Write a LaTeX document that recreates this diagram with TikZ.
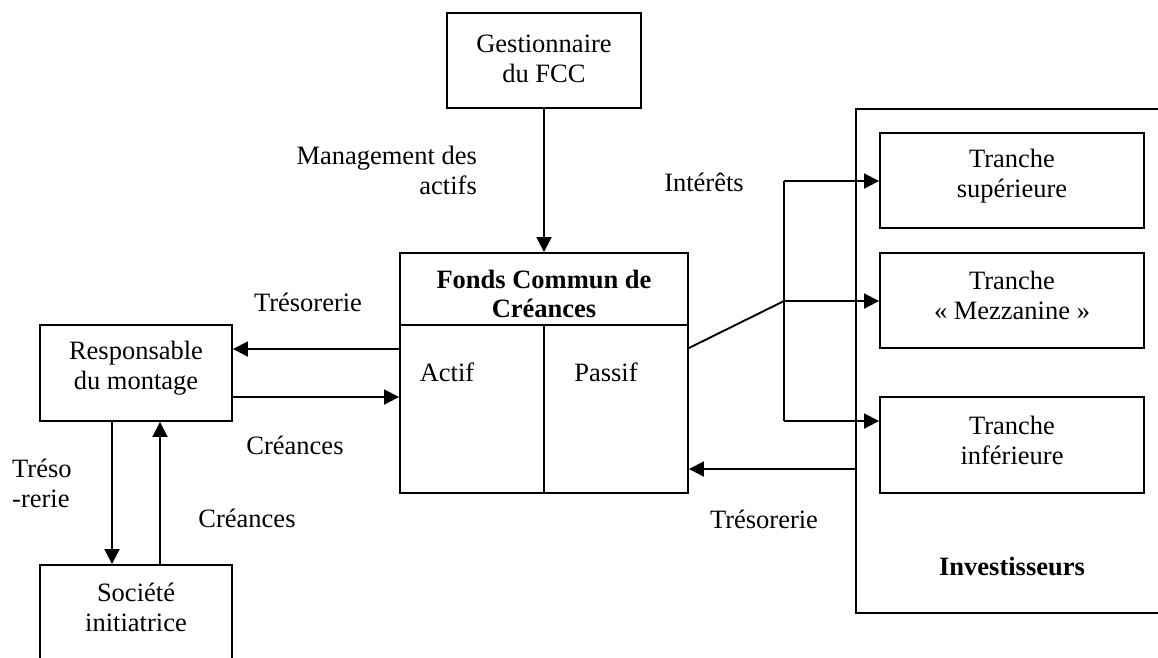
\documentclass[tikz,border=0pt]{standalone}
\usepackage{fontspec}
\setmainfont{Liberation Serif}
\usetikzlibrary{arrows.meta}
\begin{document}
\begin{tikzpicture}[x=1pt,y=-1pt,
  every node/.style={font=\fontsize{26.5}{30}\selectfont},
  boxnode/.style={draw,line width=1.9pt,inner sep=0pt,rectangle},
  txt/.style={inner sep=0pt,align=center},
  ln/.style={line width=1.9pt},
  arr/.style={line width=1.9pt,-{Triangle[length=15pt,width=15pt]}}]
\path[use as bounding box] (0,0) rectangle (1158,657);
\clip (0,0) rectangle (1158,657);
% boxes
\node[boxnode,minimum width=194,minimum height=95] (gest) at (544,60.5) {};
\node[txt] (gestT) at (544,59) {Gestionnaire\\du FCC};
\node[boxnode,minimum width=288,minimum height=240] (fcc) at (544,373) {};
\coordinate (hdl) at (400,325);
\coordinate (hdr) at (688,325);
\draw[ln] (hdl) -- (hdr);
\draw[ln] (fcc.south) -- (fcc.south |- hdl);
\node[txt,font=\fontsize{26.5}{29}\selectfont\bfseries] (fccT) at (544,294) {Fonds Commun de\\Créances};
\node[txt] (actif) at (447,372) {Actif};
\node[txt] (passif) at (606,372) {Passif};
\node[boxnode,minimum width=192,minimum height=96] (resp) at (136,373) {};
\node[txt] (respT) at (136,368) {Responsable\\du montage};
\node[boxnode,minimum width=192,minimum height=150] (soc) at (136,640) {};
\node[txt] (socT) at (136,607) {Société\\initiatrice};
\node[boxnode,minimum width=344,minimum height=504] (inv) at (1028,361) {};
\node[txt,font=\fontsize{26.5}{30}\selectfont\bfseries] (invT) at (1012,566) {Investisseurs};
\node[boxnode,minimum width=264,minimum height=95] (t1) at (1012,180.5) {};
\node[txt] (t1T) at (1012,176) {Tranche\\supérieure};
\node[boxnode,minimum width=264,minimum height=95] (t2) at (1012,300.5) {};
\node[txt] (t2T) at (1012,295) {Tranche\\« Mezzanine »};
\node[boxnode,minimum width=264,minimum height=96] (t3) at (1012,445) {};
\node[txt] (t3T) at (1012,440) {Tranche\\inférieure};
% labels
\node[txt,align=right,anchor=east] (lman) at (477,170) {Management des\\actifs};
\node[txt] (lint) at (704,182) {Intérêts};
\node[txt] (ltres1) at (308,302) {Trésorerie};
\node[txt] (lcre1) at (295,445) {Créances};
\node[txt,align=left,anchor=west] (ltres2) at (12,483) {Tréso\\-rerie};
\node[txt] (lcre2) at (247,518) {Créances};
\node[txt] (ltres3) at (764,519) {Trésorerie};
% connectors
\draw[arr] (gest.south) -- (fcc.north);
\draw[arr] (fcc.west |- 0,349) -- (resp.east |- 0,349);
\draw[arr] (resp.east |- 0,397) -- (fcc.west |- 0,397);
\draw[arr] (resp.south -| 112,0) -- (soc.north -| 112,0);
\draw[arr] (soc.north -| 160,0) -- (resp.south -| 160,0);
\coordinate (jt) at (784,181);
\coordinate (jm) at (784,301);
\coordinate (jb) at (784,421);
\draw[ln] (fcc.east |- 0,348) -- (jm);
\draw[ln] (jt) -- (jb);
\draw[arr] (jt) -- (t1.west |- jt);
\draw[arr] (jm) -- (t2.west |- jm);
\draw[arr] (jb) -- (t3.west |- jb);
\draw[arr] (inv.west |- 0,469) -- (fcc.east |- 0,469);
\end{tikzpicture}
\end{document}
